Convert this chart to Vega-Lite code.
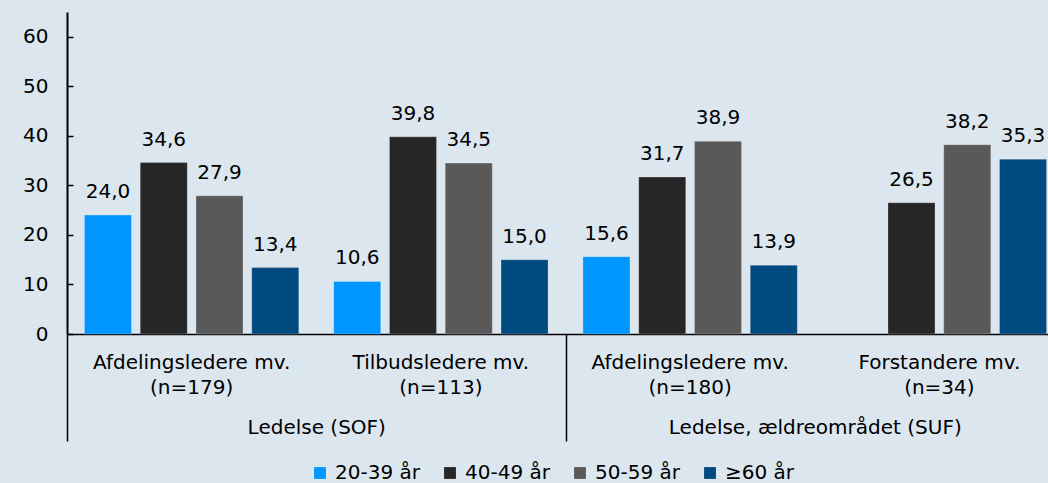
{
  "$schema": "https://vega.github.io/schema/vega-lite/v6.json",
  "width": 997,
  "height": 322,
  "autosize": {"type": "none"},
  "padding": {"left": 67, "top": 12, "right": 0, "bottom": 149},
  "background": "#dce6ef",
  "config": {
    "view": {"stroke": null},
    "font": "DejaVu Sans",
    "locale": {"number": {"decimal": ",", "thousands": ".", "grouping": [3], "currency": ["", " kr."]}}
  },
  "data": {
    "values": [
      {"cat": "Afdelingsledere mv.|(n=179)", "grp": "Ledelse (SOF)", "series": "20-39 år", "value": 24.0},
      {"cat": "Afdelingsledere mv.|(n=179)", "grp": "Ledelse (SOF)", "series": "40-49 år", "value": 34.6},
      {"cat": "Afdelingsledere mv.|(n=179)", "grp": "Ledelse (SOF)", "series": "50-59 år", "value": 27.9},
      {"cat": "Afdelingsledere mv.|(n=179)", "grp": "Ledelse (SOF)", "series": "≥60 år", "value": 13.4},
      {"cat": "Tilbudsledere mv.|(n=113)", "grp": "Ledelse (SOF)", "series": "20-39 år", "value": 10.6},
      {"cat": "Tilbudsledere mv.|(n=113)", "grp": "Ledelse (SOF)", "series": "40-49 år", "value": 39.8},
      {"cat": "Tilbudsledere mv.|(n=113)", "grp": "Ledelse (SOF)", "series": "50-59 år", "value": 34.5},
      {"cat": "Tilbudsledere mv.|(n=113)", "grp": "Ledelse (SOF)", "series": "≥60 år", "value": 15.0},
      {"cat": "Afdelingsledere mv.|(n=180)", "grp": "Ledelse, ældreområdet (SUF)", "series": "20-39 år", "value": 15.6},
      {"cat": "Afdelingsledere mv.|(n=180)", "grp": "Ledelse, ældreområdet (SUF)", "series": "40-49 år", "value": 31.7},
      {"cat": "Afdelingsledere mv.|(n=180)", "grp": "Ledelse, ældreområdet (SUF)", "series": "50-59 år", "value": 38.9},
      {"cat": "Afdelingsledere mv.|(n=180)", "grp": "Ledelse, ældreområdet (SUF)", "series": "≥60 år", "value": 13.9},
      {"cat": "Forstandere mv.|(n=34)", "grp": "Ledelse, ældreområdet (SUF)", "series": "40-49 år", "value": 26.5},
      {"cat": "Forstandere mv.|(n=34)", "grp": "Ledelse, ældreområdet (SUF)", "series": "50-59 år", "value": 38.2},
      {"cat": "Forstandere mv.|(n=34)", "grp": "Ledelse, ældreområdet (SUF)", "series": "≥60 år", "value": 35.3}
    ]
  },
  "layer": [
    {
      "encoding": {
        "x": {
          "field": "cat",
          "type": "nominal",
          "sort": ["Afdelingsledere mv.|(n=179)", "Tilbudsledere mv.|(n=113)", "Afdelingsledere mv.|(n=180)", "Forstandere mv.|(n=34)"],
          "scale": {"paddingInner": 0.14, "paddingOuter": 0.07},
          "axis": {
            "title": null,
            "labelExpr": "split(datum.label, '|')",
            "labelAngle": 0,
            "ticks": false,
            "domainColor": "#000000",
            "domainWidth": 1.5,
            "labelFontSize": 20,
            "labelColor": "#000000",
            "labelPadding": 18,
            "labelLineHeight": 25,
            "labelLimit": 0
          }
        },
        "xOffset": {
          "field": "series",
          "sort": ["20-39 år", "40-49 år", "50-59 år", "≥60 år"],
          "scale": {"paddingInner": 0.156}
        },
        "y": {
          "field": "value",
          "type": "quantitative",
          "scale": {"domain": [0, 65]},
          "axis": {
            "title": null,
            "values": [0, 10, 20, 30, 40, 50, 60],
            "grid": false,
            "domainColor": "#000000",
            "domainWidth": 2,
            "tickColor": "#000000",
            "tickWidth": 1.5,
            "tickSize": -6,
            "labelFontSize": 20,
            "labelColor": "#000000",
            "labelPadding": 25
          }
        }
      },
      "layer": [
        {
          "mark": {"type": "bar", "stroke": "#ffffff", "strokeOpacity": 0.25, "strokeWidth": 1},
          "encoding": {
            "color": {
              "field": "series",
              "type": "nominal",
              "scale": {"domain": ["20-39 år", "40-49 år", "50-59 år", "≥60 år"], "range": ["#0096ff", "#262626", "#595959", "#004a80"]},
              "legend": {
                "title": null,
                "orient": "none",
                "legendX": 243,
                "legendY": 451,
                "direction": "horizontal",
                "symbolType": "square",
                "symbolSize": 140,
                "symbolStrokeWidth": 0,
                "labelFontSize": 20,
                "labelColor": "#000000",
                "columnPadding": 20,
                "labelOffset": 5
              }
            }
          }
        },
        {
          "mark": {"type": "text", "dy": -17, "baseline": "alphabetic", "fontSize": 20, "color": "#000000"},
          "encoding": {"text": {"field": "value", "type": "quantitative", "format": ".1f"}}
        }
      ]
    },
    {
      "mark": {"type": "bar", "opacity": 0},
      "encoding": {
        "x": {
          "field": "grp",
          "type": "nominal",
          "scale": {"paddingInner": 0, "paddingOuter": 0},
          "axis": {
            "orient": "bottom",
            "title": null,
            "domain": false,
            "tickBand": "extent",
            "tickSize": 107,
            "tickColor": "#000000",
            "tickWidth": 1.5,
            "labelAngle": 0,
            "labelFontSize": 20,
            "labelColor": "#000000",
            "labelBaseline": "top",
            "labelPadding": -24,
            "labelLimit": 0
          }
        }
      }
    }
  ],
  "resolve": {"scale": {"x": "independent"}, "axis": {"x": "independent"}}
}
